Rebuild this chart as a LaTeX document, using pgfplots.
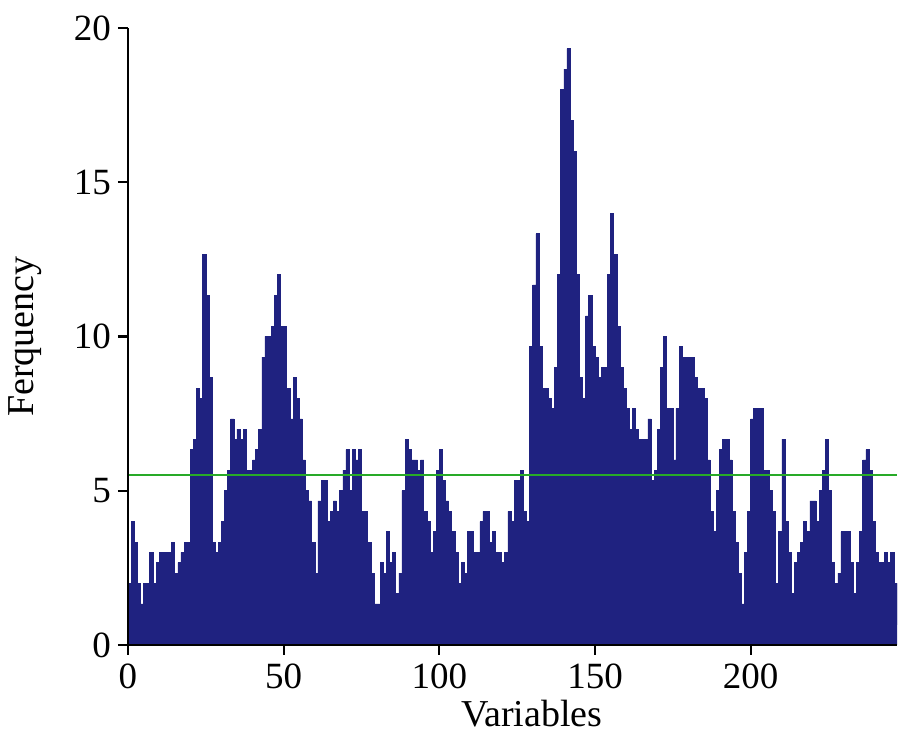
\documentclass[border=0pt]{standalone}
\usepackage{fontspec}
\setmainfont{Liberation Serif}
\usepackage{pgfplots}
\usepackage{pgfplotstable}
\pgfplotsset{compat=1.18}
\definecolor{barblue}{RGB}{31,34,128}
\definecolor{thrgreen}{RGB}{40,170,40}
\pgfplotstableread{
k v
0 2
1 4
2 3.33
3 2
4 1.33
5 2
6 2
7 3
8 2
9 2.67
10 3
11 3
12 3
13 3
14 3.33
15 2.33
16 2.67
17 3
18 3.33
19 3.33
20 6.33
21 6.67
22 8.33
23 8
24 12.67
25 11.33
26 8.67
27 3.33
28 3
29 3.33
30 4
31 5
32 5.67
33 7.33
34 6.67
35 7
36 6.67
37 7
38 5.67
39 5.67
40 6
41 6.33
42 7
43 9.33
44 10
45 10
46 10.33
47 11.33
48 12
49 10.33
50 10.33
51 8.33
52 7.33
53 8.67
54 8
55 7.33
56 6
57 5
58 4.67
59 3.33
60 2.33
61 4.67
62 5.33
63 5.33
64 4
65 4.33
66 4.67
67 4.33
68 5
69 5.67
70 6.33
71 5
72 6.33
73 6
74 6.33
75 4.33
76 4.33
77 3.33
78 2.33
79 1.33
80 1.33
81 2.67
82 2.33
83 3.67
84 2.67
85 3
86 1.67
87 2.33
88 5
89 6.67
90 6.33
91 6
92 6
93 5.67
94 6
95 4.33
96 4
97 3
98 3.67
99 5.67
100 6.33
101 5.33
102 4.67
103 4.33
104 3.67
105 3
106 2
107 2.67
108 2.33
109 3.67
110 3.67
111 3
112 3
113 4
114 4.33
115 4.33
116 3.33
117 3.67
118 3
119 3
120 2.67
121 3
122 4.33
123 4
124 5.33
125 5.33
126 5.67
127 4.33
128 4
129 9.67
130 11.67
131 13.33
132 9.67
133 8.33
134 8.33
135 8
136 7.67
137 9
138 12
139 18
140 18.67
141 19.33
142 17
143 16
144 12
145 8.67
146 8
147 10.67
148 11.33
149 9.67
150 9.33
151 8.67
152 9
153 9
154 12
155 14
156 12.67
157 10.33
158 9
159 8.33
160 7.67
161 7
162 7.67
163 7
164 6.67
165 6.67
166 6.67
167 7.33
168 5.33
169 5.67
170 7
171 9
172 10
173 7.67
174 7.67
175 6
176 7.67
177 9.67
178 9.33
179 9.33
180 9.33
181 9.33
182 8.67
183 8.33
184 8.33
185 8
186 6
187 4.33
188 3.67
189 5
190 6.33
191 6.67
192 6.67
193 6
194 4.33
195 3.33
196 2.33
197 1.33
198 3
199 4.33
200 7.33
201 7.67
202 7.67
203 7.67
204 5.67
205 5.67
206 5
207 4.33
208 2
209 3.67
210 6.67
211 4
212 3
213 1.67
214 2.67
215 3
216 3.33
217 4
218 3.67
219 4.67
220 4.67
221 4
222 5
223 5.67
224 6.67
225 5
226 2.67
227 2
228 2.33
229 3.67
230 3.67
231 3.67
232 2.67
233 1.67
234 2.67
235 3.67
236 6
237 6.33
238 5.67
239 4
240 3
241 2.67
242 2.67
243 3
244 2.67
245 3
246 2
247 0.67
248 0.67
}\freqdata
\begin{document}
\begin{tikzpicture}
\useasboundingbox (-64pt,-49pt) rectangle (386pt,322.5pt);
\begin{axis}[
  at={(0,0)}, anchor=south west,
  scale only axis, width=384.5pt, height=308.5pt,
  xmin=0, xmax=247, ymin=0, ymax=20,
  axis x line*=bottom, axis y line*=left,
  axis line style={line width=1.1pt, black},
  tick align=outside, major tick length=5pt,
  every tick/.style={line width=1.1pt, black},
  xtick={0,50,100,150,200}, ytick={0,5,10,15,20},
  ticklabel style={font=\fontsize{18.5}{20}\selectfont},
  xticklabel style={yshift=-1pt},
  /pgf/number format/assume math mode=true,
  xlabel={Variables}, ylabel={Ferquency},
  label style={font=\fontsize{19}{21}\selectfont},
  xlabel style={at={(axis description cs:0.525,0)}, anchor=base, yshift=-41pt},
  ylabel style={at={(axis description cs:-0.112,0.5)}, anchor=south, inner sep=0pt},
  axis on top,
]
\addplot[const plot mark left, fill=barblue, draw=barblue, line width=0.3pt] table[x=k, y=v] {\freqdata} \closedcycle;
\addplot[thrgreen, line width=1pt] coordinates {(0,5.5) (247,5.5)};
\end{axis}
\end{tikzpicture}
\end{document}
